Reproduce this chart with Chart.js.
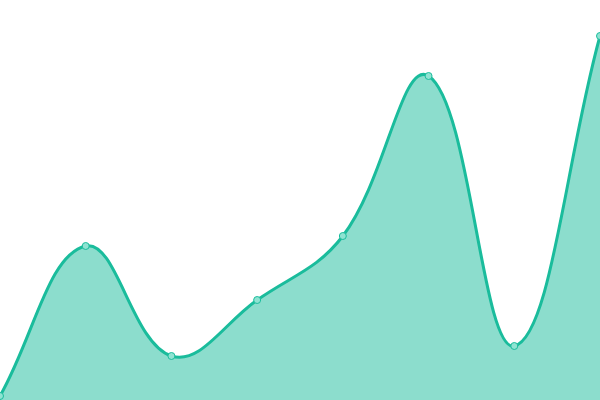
<!DOCTYPE html>
<html>
<head>
<meta charset="utf-8">
<script src="https://cdn.jsdelivr.net/npm/chart.js@4"></script>
<style>
  html, body { margin: 0; padding: 0; background: #fff; }
  #wrap { width: 600px; height: 400px; }
</style>
</head>
<body>
<div id="wrap"><canvas id="chart"></canvas></div>
<script>
// Data (hidden y axis, 0..100)
const labels = ['A', 'B', 'C', 'D', 'E', 'F', 'G', 'H'];
const values = [1, 38.5, 11, 25, 41, 81, 13.5, 91];

const lineColor = '#1abc9c';
const fillColor = 'rgba(26, 188, 156, 0.5)';

new Chart(document.getElementById('chart').getContext('2d'), {
    type: 'line',
    data: {
        labels: labels,
        datasets: [{
            data: values,
            borderColor: lineColor,
            backgroundColor: fillColor,
            borderWidth: 3,
            fill: 'origin',
            tension: 0.4,
            pointRadius: 3.5,
            pointBorderWidth: 1,
            pointBackgroundColor: '#8fe3d2',
            pointBorderColor: lineColor
        }]
    },
    options: {
        responsive: true,
        maintainAspectRatio: false,
        animation: false,
        layout: { padding: 0, autoPadding: false },
        plugins: {
            legend: { display: false },
            tooltip: { enabled: false }
        },
        scales: {
            x: { display: false },
            y: { display: false, min: 0, max: 100 }
        }
    }
});
</script>
</body>
</html>
